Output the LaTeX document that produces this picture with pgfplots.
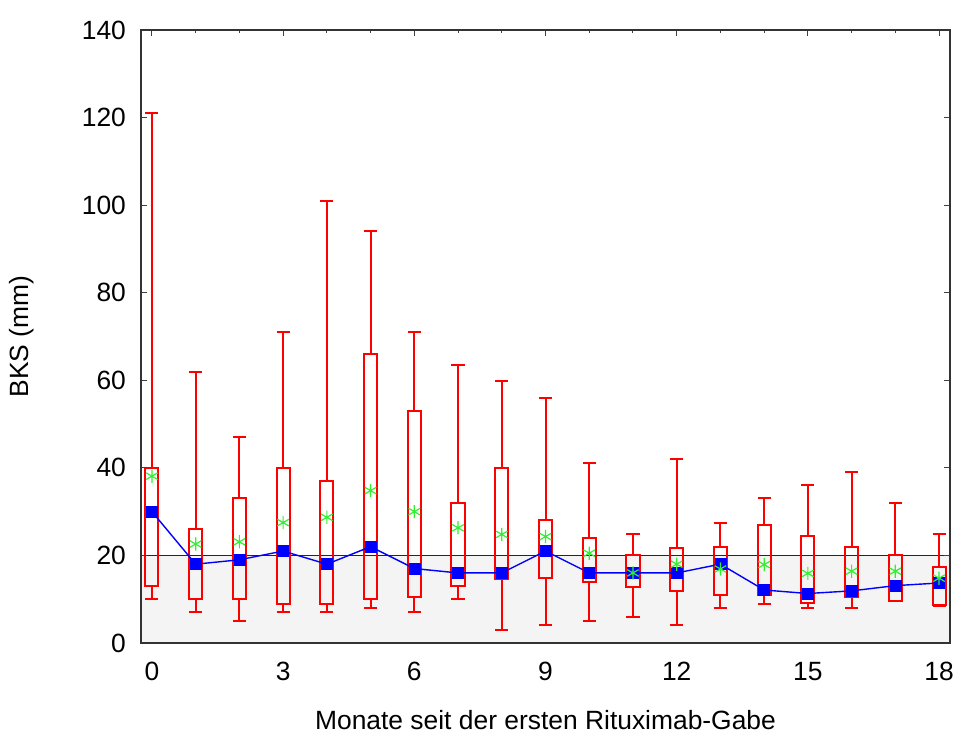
\documentclass[border=0pt]{standalone}
\usepackage{fontspec}
\setmainfont{Liberation Sans}
\usepackage{pgfplots}
\usepackage{pgfplotstable}
\usepgfplotslibrary{statistics}
\pgfplotsset{compat=1.18}

\definecolor{bandgray}{HTML}{F4F4F4}
\definecolor{boxred}{HTML}{FF0000}
\definecolor{medblue}{HTML}{0000FF}
\definecolor{meangreen}{HTML}{30F030}

% month, median, mean
\pgfplotstableread{
m  med   mean
0  30.0  38.1
1  18.0  22.6
2  19.0  23.1
3  21.0  27.5
4  18.0  28.7
5  22.0  34.8
6  17.0  30.0
7  16.0  26.3
8  16.0  24.8
9  21.0  24.3
10 16.0  20.5
11 16.0  16.0
12 16.0  18.0
13 18.0  16.9
14 12.1  17.9
15 11.3  15.9
16 11.9  16.4
17 13.1  16.4
18 13.7  14.8
}\bks

\pgfplotsset{
  bksboxstyle/.style={
    draw=boxred, line width=1pt, fill=none, mark=none,
    boxplot/every box/.style={draw=boxred, line width=1pt, fill=none},
    boxplot/every whisker/.style={draw=boxred, line width=1pt},
    boxplot/every median/.style={draw=none},
  },
}

% one box: position, lower whisker, lower quartile, median, upper quartile, upper whisker
\newcommand{\bksbox}[6]{%
  \addplot[bksboxstyle,
    boxplot prepared={draw position=#1, draw direction=y,
      lower whisker=#2, lower quartile=#3, median=#4,
      upper quartile=#5, upper whisker=#6,
      box extend=0.3, whisker extend=0.3}
  ] coordinates {};
}

\begin{document}
\begin{tikzpicture}
\begin{axis}[
  scale only axis,
  width=404.5pt, height=306.5pt,
  xmin=-0.25, xmax=18.25,
  ymin=0, ymax=140,
  xtick={0,3,...,18},
  minor xtick={0,...,18},
  ytick={0,20,...,140},
  xtick pos=right, xticklabel pos=left,
  ytick pos=both,
  tick align=inside,
  major tick length=3pt,
  minor tick length=1.5pt,
  axis on top,
  axis line style={black!80, line width=0.7pt},
  every tick/.style={black!75, line width=0.5pt},
  /pgf/number format/assume math mode=true,
  tick label style={font=\fontsize{13.2}{15}\selectfont},
  xticklabel style={yshift=-6pt},
  yticklabel style={xshift=-4pt},
  label style={font=\fontsize{13.2}{15}\selectfont},
  xlabel={Monate seit der ersten Rituximab-Gabe},
  ylabel={BKS (mm)},
  xlabel style={at={(axis description cs:0.5,-0.1256)}, anchor=center},
  ylabel style={at={(axis description cs:-0.147,0.5)}, anchor=center},
]
% reference range up to 20 mm
\addplot[fill=bandgray, draw=none] coordinates {(-0.25,0) (18.25,0) (18.25,20) (-0.25,20)} \closedcycle;
\addplot[black!85, line width=0.5pt] coordinates {(-0.25,20) (18.25,20)};

% box plots per month
\bksbox{0}{10.0}{13.0}{30.0}{40.0}{121.0}
\bksbox{1}{7.0}{10.0}{18.0}{26.0}{62.0}
\bksbox{2}{5.0}{10.0}{19.0}{33.0}{47.0}
\bksbox{3}{7.0}{9.0}{21.0}{40.0}{71.0}
\bksbox{4}{7.0}{9.0}{18.0}{37.0}{101.0}
\bksbox{5}{8.0}{10.0}{22.0}{66.0}{94.0}
\bksbox{6}{7.0}{10.4}{17.0}{53.0}{71.0}
\bksbox{7}{10.0}{13.0}{16.0}{32.0}{63.6}
\bksbox{8}{3.0}{14.6}{16.0}{40.0}{59.8}
\bksbox{9}{4.0}{14.9}{21.0}{28.0}{56.0}
\bksbox{10}{5.0}{13.9}{16.0}{24.0}{41.0}
\bksbox{11}{6.0}{12.9}{16.0}{20.0}{25.0}
\bksbox{12}{4.0}{11.9}{16.0}{21.7}{42.0}
\bksbox{13}{8.0}{11.0}{18.0}{22.0}{27.3}
\bksbox{14}{9.0}{11.0}{12.1}{27.0}{33.0}
\bksbox{15}{8.0}{9.1}{11.3}{24.4}{36.0}
\bksbox{16}{8.0}{10.5}{11.9}{22.0}{39.0}
\bksbox{17}{9.5}{9.7}{13.1}{20.0}{32.0}
\bksbox{18}{8.5}{8.7}{13.7}{17.4}{25.0}

% median course
\addplot[medblue, line width=0.7pt, mark=square*, mark size=2.75pt,
  mark options={fill=medblue, draw=medblue, line width=0.3pt}]
  table[x=m, y=med] {\bks};

% mean values
\addplot[only marks, meangreen, mark=asterisk, mark size=3.3pt,
  mark options={line width=0.6pt}]
  table[x=m, y=mean] {\bks};
\end{axis}
\pgfresetboundingbox
\path[use as bounding box] ([shift={(-70.5pt,-47pt)}]current axis.south west)
  rectangle ([shift={(2.5pt,15pt)}]current axis.north east);
\end{tikzpicture}
\end{document}
